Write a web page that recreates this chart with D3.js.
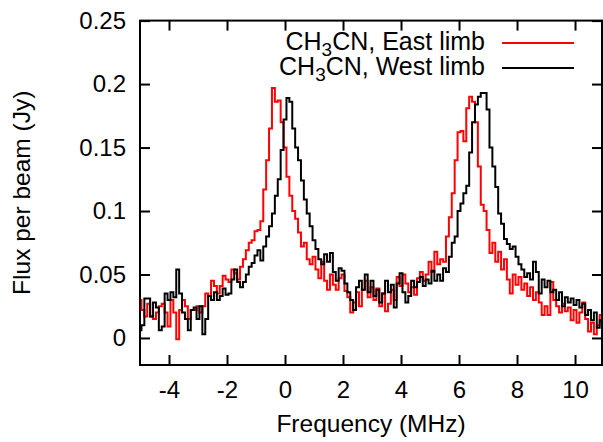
<!DOCTYPE html>
<html>
<head>
<meta charset="utf-8">
<script src="https://cdn.jsdelivr.net/npm/d3@7"></script>
<style>
  body { margin: 0; background: #fff; }
  text { font-family: "Liberation Sans", Arial, Helvetica, sans-serif; }
</style>
</head>
<body>
<div id="chart"></div>
<script>
// Frequency channels, 0.1 MHz apart, from -5.0 to 10.9 MHz
var freqStart = -5.0, freqStep = 0.1;

// CH3CN, East limb (Jy)
var eastLimb = [
  0.030, 0.022, 0.017, 0.027, 0.017, 0.015, 0.020, 0.025, 0.027, 0.020,
  0.009, 0.030, 0.020, -0.001, 0.022, 0.030, 0.025, 0.015, 0.022, 0.022,
  0.025, 0.020, 0.025, 0.035, 0.033, 0.045, 0.041, 0.035, 0.041, 0.049,
  0.046, 0.044, 0.054, 0.051, 0.046, 0.056, 0.062, 0.069, 0.075, 0.077,
  0.084, 0.085, 0.092, 0.117, 0.140, 0.165, 0.197, 0.186, 0.187, 0.170,
  0.150, 0.127, 0.112, 0.100, 0.094, 0.083, 0.072, 0.075, 0.062, 0.058,
  0.064, 0.054, 0.047, 0.060, 0.045, 0.038, 0.050, 0.042, 0.038, 0.047,
  0.050, 0.037, 0.032, 0.020, 0.028, 0.036, 0.025, 0.038, 0.045, 0.032,
  0.040, 0.030, 0.039, 0.025, 0.035, 0.021, 0.027, 0.038, 0.030, 0.048,
  0.041, 0.050, 0.043, 0.036, 0.040, 0.034, 0.047, 0.052, 0.045, 0.050,
  0.060, 0.052, 0.068, 0.058, 0.062, 0.060, 0.080, 0.095, 0.114, 0.140,
  0.162, 0.163, 0.155, 0.181, 0.190, 0.186, 0.170, 0.135, 0.105, 0.100,
  0.085, 0.067, 0.075, 0.060, 0.068, 0.054, 0.062, 0.046, 0.035, 0.050,
  0.042, 0.048, 0.038, 0.043, 0.033, 0.040, 0.030, 0.036, 0.028, 0.018,
  0.025, 0.018, 0.044, 0.030, 0.025, 0.020, 0.027, 0.021, 0.024, 0.014,
  0.022, 0.012, 0.020, 0.028, 0.015, 0.005, 0.012, 0.003, 0.010, 0.018
];

// CH3CN, West limb (Jy)
var westLimb = [
  0.006, 0.010, 0.031, 0.031, 0.017, 0.028, 0.024, 0.006, 0.009, 0.035,
  0.030, 0.036, 0.032, 0.054, 0.035, 0.020, 0.015, 0.006, 0.022, 0.024,
  0.015, 0.025, 0.003, 0.015, 0.033, 0.030, 0.036, 0.030, 0.033, 0.039,
  0.034, 0.035, 0.046, 0.054, 0.044, 0.040, 0.044, 0.050, 0.056, 0.059,
  0.065, 0.069, 0.061, 0.072, 0.080, 0.088, 0.098, 0.112, 0.125, 0.148,
  0.172, 0.189, 0.186, 0.165, 0.150, 0.140, 0.124, 0.109, 0.098, 0.088,
  0.077, 0.070, 0.062, 0.058, 0.066, 0.060, 0.067, 0.052, 0.045, 0.055,
  0.053, 0.043, 0.036, 0.030, 0.022, 0.040, 0.045, 0.038, 0.050, 0.036,
  0.045, 0.033, 0.038, 0.028, 0.035, 0.045, 0.036, 0.042, 0.024, 0.043,
  0.051, 0.036, 0.028, 0.033, 0.045, 0.040, 0.044, 0.048, 0.041, 0.046,
  0.043, 0.053, 0.045, 0.050, 0.045, 0.055, 0.052, 0.064, 0.075, 0.080,
  0.100, 0.106, 0.114, 0.120, 0.146, 0.170, 0.184, 0.190, 0.193, 0.193,
  0.180, 0.150, 0.135, 0.119, 0.098, 0.090, 0.078, 0.074, 0.070, 0.072,
  0.064, 0.058, 0.054, 0.048, 0.051, 0.046, 0.060, 0.052, 0.035, 0.046,
  0.040, 0.045, 0.036, 0.038, 0.030, 0.036, 0.025, 0.032, 0.028, 0.031,
  0.026, 0.030, 0.024, 0.027, 0.018, 0.022, 0.014, 0.020, 0.008, 0.014
];

var xTicks = [-4, -2, 0, 2, 4, 6, 8, 10];
var yTicks = [0, 0.05, 0.1, 0.15, 0.2, 0.25];
var xTickLabels = ["-4", "-2", "0", "2", "4", "6", "8", "10"];
var yTickLabels = ["0", "0.05", "0.1", "0.15", "0.2", "0.25"];

// Lienzo
var svgWidth = 603, svgHeight = 442;
var plotLeft = 140, plotRight = 602, plotTop = 20.6, plotBottom = 365;
var fontSize = "24px";

var svg = d3.select("#chart")
    .append("svg")
    .attr("width", svgWidth)
    .attr("height", svgHeight);

var xScale = d3.scaleLinear()
    .domain([-5, 10.93])
    .range([plotLeft, plotRight]);

var yScale = d3.scaleLinear()
    .domain([-0.0213, 0.25])
    .range([plotBottom, plotTop]);

// clip for the spectra
svg.append("clipPath")
    .attr("id", "plotArea")
  .append("rect")
    .attr("x", plotLeft)
    .attr("y", plotTop)
    .attr("width", plotRight - plotLeft)
    .attr("height", plotBottom - plotTop);

function toPoints(values) {
  return values.map(function(v, i) {
    return { f: freqStart + i * freqStep, v: v };
  });
}

var line = d3.line()
    .x(function(d) { return xScale(d.f); })
    .y(function(d) { return yScale(d.v); })
    .curve(d3.curveStep);

svg.append("path")
    .datum(toPoints(eastLimb))
    .attr("clip-path", "url(#plotArea)")
    .attr("fill", "none")
    .attr("stroke", "#ff0000")
    .attr("stroke-width", 2)
    .attr("d", line);

svg.append("path")
    .datum(toPoints(westLimb))
    .attr("clip-path", "url(#plotArea)")
    .attr("fill", "none")
    .attr("stroke", "#000")
    .attr("stroke-width", 2)
    .attr("d", line);

// Ejes (ticks inward, mirrored on top and right)
svg.append("g")
    .attr("transform", "translate(0," + plotBottom + ")")
    .call(d3.axisBottom(xScale).tickValues(xTicks)
      .tickFormat(function(d, i) { return xTickLabels[i]; })
      .tickSize(-10).tickPadding(16));

svg.append("g")
    .attr("transform", "translate(" + plotLeft + ",0)")
    .call(d3.axisLeft(yScale).tickValues(yTicks)
      .tickFormat(function(d, i) { return yTickLabels[i]; })
      .tickSize(-10).tickPadding(14));

svg.append("g")
    .attr("transform", "translate(0," + plotTop + ")")
    .call(d3.axisTop(xScale).tickValues(xTicks).tickFormat("").tickSize(-10));

svg.append("g")
    .attr("transform", "translate(" + plotRight + ",0)")
    .call(d3.axisRight(yScale).tickValues(yTicks).tickFormat("").tickSize(-10));

svg.selectAll(".domain").remove();
svg.selectAll(".tick line")
    .attr("stroke", "#000")
    .attr("stroke-width", 2);
svg.selectAll(".tick text")
    .style("font-size", fontSize)
    .attr("fill", "#000");

// Marco
svg.append("rect")
    .attr("x", plotLeft)
    .attr("y", plotTop)
    .attr("width", plotRight - plotLeft)
    .attr("height", plotBottom - plotTop)
    .attr("fill", "none")
    .attr("stroke", "#000")
    .attr("stroke-width", 2);

// Titulos de ejes
svg.append("text")
    .attr("x", (plotLeft + plotRight) / 2)
    .attr("y", 432)
    .attr("text-anchor", "middle")
    .style("font-size", "24.5px")
    .text("Frequency (MHz)");

svg.append("text")
    .attr("transform", "translate(30," + ((plotTop + plotBottom) / 2) + ") rotate(-90)")
    .attr("text-anchor", "middle")
    .style("font-size", "24.5px")
    .text("Flux per beam (Jy)");

// Leyenda
var legend = [
  { name: "East limb", color: "#ff0000", y: 50 },
  { name: "West limb", color: "#000", y: 75 }
];

legend.forEach(function(item) {
  var t = svg.append("text")
      .attr("x", 485)
      .attr("y", item.y)
      .attr("text-anchor", "end")
      .style("font-size", "25px");
  t.append("tspan").text("CH");
  t.append("tspan").attr("dy", 6).style("font-size", "19px").text("3");
  t.append("tspan").attr("dy", -6).text("CN, " + item.name);

  svg.append("line")
      .attr("x1", 502)
      .attr("x2", 574)
      .attr("y1", item.y - 7)
      .attr("y2", item.y - 7)
      .attr("stroke", item.color)
      .attr("stroke-width", 2);
});
</script>
</body>
</html>
